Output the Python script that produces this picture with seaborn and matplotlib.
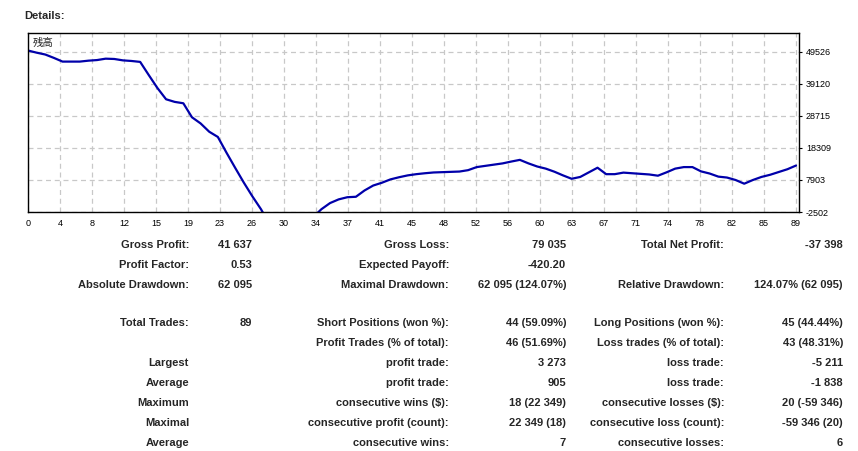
import matplotlib
matplotlib.use("Agg")
import matplotlib.pyplot as plt
import pandas as pd
import seaborn as sns

# balance curve (trade number -> balance)
trades = list(range(90))
balance = [
    50000, 49300, 48700, 47600, 46400, 46400, 46400, 46700, 46900, 47350,
    47250, 46800, 46600, 46300, 42000, 37800, 34150, 33300, 32850, 28300,
    26300, 23600, 21900, 16800, 11900, 7100, 2600, -1600, -6500, -10500,
    -12095, -10200, -7500, -4300, -1600, 400, 1600, 2300, 2450, 4500,
    6100, 7000, 8100, 8800, 9400, 9800, 10100, 10350, 10450, 10550,
    10650, 11100, 12100, 12500, 12900, 13300, 13900, 14450, 13300, 12300,
    11600, 10600, 9400, 8300, 8900, 10400, 11900, 9800, 9800, 10300,
    10100, 9900, 9700, 9300, 10400, 11600, 12100, 12100, 10700, 10000,
    9000, 8700, 7900, 6700, 7900, 8900, 9600, 10500, 11400, 12602,
]

y_ticks = [-2502, 7903, 18309, 28715, 39120, 49526]
x_tick_labels = ["0", "4", "8", "12", "15", "19", "23", "26", "30", "34", "37", "41",
                 "45", "48", "52", "56", "60", "63", "67", "71", "74", "78", "82", "85", "89"]

# report table: (label, value) for the three columns of each row
rows = [
    [("Gross Profit:", "41 637"), ("Gross Loss:", "79 035"), ("Total Net Profit:", "-37 398")],
    [("Profit Factor:", "0.53"), ("Expected Payoff:", "-420.20"), ("", "")],
    [("Absolute Drawdown:", "62 095"), ("Maximal Drawdown:", "62 095 (124.07%)"),
     ("Relative Drawdown:", "124.07% (62 095)")],
    [("Total Trades:", "89"), ("Short Positions (won %):", "44 (59.09%)"),
     ("Long Positions (won %):", "45 (44.44%)")],
    [("", ""), ("Profit Trades (% of total):", "46 (51.69%)"),
     ("Loss trades (% of total):", "43 (48.31%)")],
    [("Largest", ""), ("profit trade:", "3 273"), ("loss trade:", "-5 211")],
    [("Average", ""), ("profit trade:", "905"), ("loss trade:", "-1 838")],
    [("Maximum", ""), ("consecutive wins ($):", "18 (22 349)"),
     ("consecutive losses ($):", "20 (-59 346)")],
    [("Maximal", ""), ("consecutive profit (count):", "22 349 (18)"),
     ("consecutive loss (count):", "-59 346 (20)")],
    [("Average", ""), ("consecutive wins:", "7"), ("consecutive losses:", "6")],
]
row_y = [245, 265, 285, 323, 343, 363, 383, 403, 423, 443]

sns.set_style("white")
plt.rcParams['font.family'] = ['Liberation Sans', 'Noto Sans CJK JP', 'DejaVu Sans']

W, H = 858, 451
fig = plt.figure(figsize=(W / 100, H / 100), dpi=100)
ax = fig.add_axes([28 / W, 1 - 212 / H, (799 - 28) / W, (212 - 33.3) / H])

df = pd.DataFrame({'trade': trades, 'balance': balance})
sns.lineplot(data=df, x='trade', y='balance', ax=ax, color='#0000aa', linewidth=1.6)

n = len(x_tick_labels) - 1
x_ticks = [i * 89 / n for i in range(n + 1)]
ax.set_xlim(0, 89 * 771 / 768)
ax.set_ylim(-2502, 55600)
ax.set_xticks(x_ticks)
ax.set_xticklabels(x_tick_labels)
ax.set_yticks(y_ticks)
ax.set_yticklabels([str(v) for v in y_ticks])
ax.yaxis.tick_right()
ax.tick_params(axis='both', labelsize=6.5, length=2, width=0.8, pad=3, colors='black')
ax.set_xlabel("")
ax.set_ylabel("")
ax.grid(True, color='#c8c8c8', linestyle=(0, (4, 3)), linewidth=0.9)
for s in ax.spines.values():
    s.set_color('black')
    s.set_linewidth(1)

ax.text(0.006, 0.975, "残高", transform=ax.transAxes, ha='left', va='top',
        fontsize=7.5, family=['Noto Sans CJK JP', 'DejaVu Sans'])

fig.text(24 / W, 1 - 16 / H, "Details:", ha='left', va='center', fontsize=8, fontweight='bold')

label_x = [189, 449, 724]
value_x = [252, 566, 843]
for y, row in zip(row_y, rows):
    for (lab, val), lx, vx in zip(row, label_x, value_x):
        if lab:
            fig.text(lx / W, 1 - y / H, lab, ha='right', va='center', fontsize=8, fontweight='bold')
        if val:
            fig.text(vx / W, 1 - y / H, val, ha='right', va='center', fontsize=8, fontweight='bold')

fig.savefig("out.png", dpi=100)
